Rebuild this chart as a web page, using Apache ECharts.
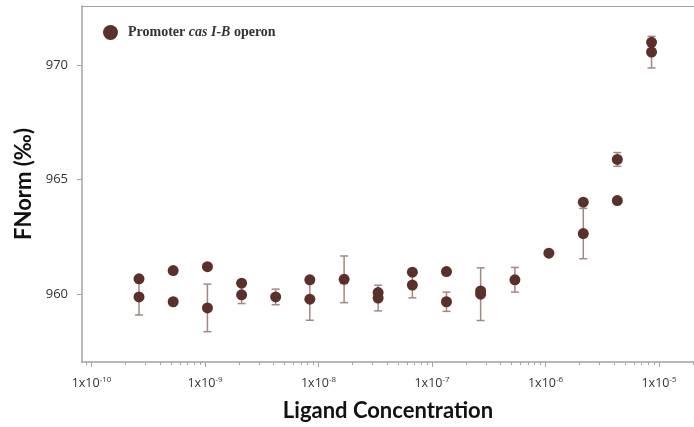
<!DOCTYPE html>
<html>
<head>
<meta charset="utf-8">
<script src="https://cdn.jsdelivr.net/npm/echarts@6/dist/echarts.min.js"></script>
<style>
  html, body { margin: 0; padding: 0; background: #fff; }
  #myChart { width: 694px; height: 427px; }
</style>
</head>
<body>
<div id="myChart"></div>
<script>
// ligand concentrations (M), 2-fold dilution series
const conc = [2.62e-10, 5.24e-10, 1.05e-9, 2.1e-9, 4.19e-9, 8.38e-9, 1.68e-8, 3.35e-8,
  6.71e-8, 1.34e-7, 2.68e-7, 5.37e-7, 1.07e-6, 2.15e-6, 4.29e-6, 8.59e-6];
// replicate carrying the error bar
const rep1 = [959.87, 959.66, 959.39, 959.96, 959.87, 959.77, 960.64, 959.82,
  960.39, 959.66, 959.99, 960.62, 961.78, 962.64, 965.88, 970.57];
const sd1 = [0.79, null, 1.04, 0.38, 0.34, 0.92, 1.02, 0.56,
  0.56, 0.42, 1.15, 0.54, null, 1.1, 0.3, 0.69];
// second replicate
const rep2 = [960.66, 961.02, 961.19, 960.47, null, 960.62, null, 960.06,
  960.95, 960.98, 960.13, null, null, 964.01, 964.08, 971.0];
const yTicks = [960, 965, 970];
const xDecades = [-10, -9, -8, -7, -6, -5];

const seriesName = 'Promoter cas I-B operon';
const dotColor = '#5b302b';
const barColor = '#a08884';
const axisGray = '#a3a3a3';

const xMin = -10.084, xMax = -4.692;

let minorTicks = [];
for (let d = -11; d <= -5; d++) {
  for (let k = 2; k <= 9; k++) {
    let v = d + Math.log10(k);
    if (v > xMin && v < xMax) minorTicks.push(v);
  }
}

let dots = [];
let bars = [];
conc.forEach(function (c, i) {
  let x = Math.log10(c);
  dots.push([x, rep1[i]]);
  if (rep2[i] != null) dots.push([x, rep2[i]]);
  if (sd1[i] != null) bars.push([x, rep1[i] - sd1[i], rep1[i] + sd1[i]]);
});

let myChart = echarts.init(document.getElementById('myChart'));
myChart.setOption({
  animation: false,
  grid: { left: 82, top: 6, right: 0, bottom: 60 },
  legend: {
    data: [seriesName],
    left: 98,
    top: 20,
    icon: 'circle',
    itemWidth: 15,
    itemHeight: 15,
    formatter: function () { return 'Promoter {i|cas I-B} operon'; },
    textStyle: {
      fontFamily: 'Liberation Serif',
      fontWeight: 'bold',
      fontSize: 14,
      color: '#333',
      padding: [0, 0, 0, 5],
      rich: {
        i: { fontFamily: 'Liberation Serif', fontWeight: 'bold', fontStyle: 'italic', fontSize: 14, color: '#333' }
      }
    }
  },
  xAxis: [
    {
      type: 'value',
      min: xMin,
      max: xMax,
      position: 'bottom',
      name: 'Ligand Concentration',
      nameLocation: 'middle',
      nameGap: 38,
      nameTextStyle: { fontFamily: 'Lato', fontWeight: 'bold', fontSize: 22, color: '#111' },
      axisLine: { onZero: false, lineStyle: { color: axisGray, width: 1.5 } },
      axisTick: { customValues: xDecades, length: 5, lineStyle: { color: axisGray } },
      axisLabel: {
        customValues: xDecades,
        margin: 14,
        fontFamily: 'Open Sans',
        fontSize: 12.5,
        color: '#333',
        formatter: function (v) { return '1x10{s|' + Math.round(v) + '}'; },
        rich: { s: { fontSize: 8, color: '#333', verticalAlign: 'top', padding: [0, 0, 6, 0] } }
      },
      splitLine: { show: false }
    },
    {
      type: 'value',
      min: xMin,
      max: xMax,
      position: 'bottom',
      axisLine: { show: false, onZero: false },
      axisTick: { customValues: minorTicks, length: 3, lineStyle: { color: axisGray } },
      axisLabel: { show: false },
      splitLine: { show: false }
    },
    {
      type: 'value',
      min: xMin,
      max: xMax,
      position: 'top',
      axisLine: { onZero: false, lineStyle: { color: axisGray, width: 1.2 } },
      axisTick: { show: false },
      axisLabel: { show: false },
      splitLine: { show: false }
    }
  ],
  yAxis: {
    type: 'value',
    min: 957.026,
    max: 972.586,
    name: 'FNorm (‰)',
    nameLocation: 'middle',
    nameGap: 47,
    nameTextStyle: { fontFamily: 'Lato', fontWeight: 'bold', fontSize: 22, color: '#111' },
    axisLine: { show: true, onZero: false, lineStyle: { color: axisGray, width: 1.5 } },
    axisTick: { customValues: yTicks, length: 5, lineStyle: { color: axisGray } },
    axisLabel: { customValues: yTicks, margin: 14, fontFamily: 'Open Sans', fontSize: 13, color: '#333' },
    splitLine: { show: false }
  },
  series: [
    {
      type: 'custom',
      name: 'sd',
      z: 1,
      data: bars,
      renderItem: function (params, api) {
        let x = api.value(0);
        let lo = api.coord([x, api.value(1)]);
        let hi = api.coord([x, api.value(2)]);
        let w = 4;
        let style = { stroke: barColor, lineWidth: 1.5 };
        return {
          type: 'group',
          children: [
            { type: 'line', shape: { x1: lo[0], y1: lo[1], x2: hi[0], y2: hi[1] }, style: style },
            { type: 'line', shape: { x1: lo[0] - w, y1: lo[1], x2: lo[0] + w, y2: lo[1] }, style: style },
            { type: 'line', shape: { x1: hi[0] - w, y1: hi[1], x2: hi[0] + w, y2: hi[1] }, style: style }
          ]
        };
      }
    },
    {
      type: 'scatter',
      name: seriesName,
      z: 3,
      symbolSize: 11,
      itemStyle: { color: dotColor, opacity: 1 },
      data: dots
    }
  ]
});
</script>
</body>
</html>
